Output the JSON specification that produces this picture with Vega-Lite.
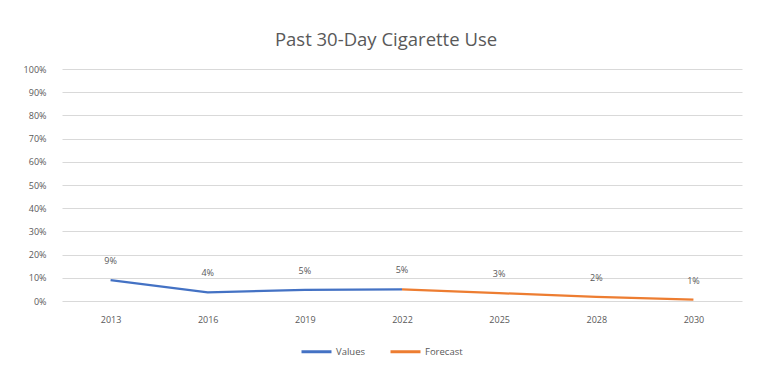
{
  "$schema": "https://vega.github.io/schema/vega-lite/v6.json",
  "width": 680,
  "height": 232,
  "autosize": {"type": "none"},
  "padding": {"left": 62, "top": 69, "right": 17, "bottom": 66},
  "background": "white",
  "title": {
    "text": "Past 30-Day Cigarette Use",
    "fontSize": 18.5,
    "font": "Open Sans",
    "fontWeight": "normal",
    "color": "#595959",
    "offset": 16,
    "anchor": "middle",
    "dx": -16
  },
  "data": {
    "values": [
      {"year": "2013", "value": 0.09, "series": "Values"},
      {"year": "2016", "value": 0.037, "series": "Values"},
      {"year": "2019", "value": 0.048, "series": "Values"},
      {"year": "2022", "value": 0.05, "series": "Values"},
      {"year": "2022", "value": 0.05, "series": "Forecast"},
      {"year": "2025", "value": 0.034, "series": "Forecast"},
      {"year": "2028", "value": 0.018, "series": "Forecast"},
      {"year": "2030", "value": 0.006, "series": "Forecast"}
    ]
  },
  "encoding": {
    "x": {
      "field": "year",
      "type": "ordinal",
      "scale": {"type": "point", "padding": 0.5},
      "axis": {
        "title": null,
        "labelAngle": 0,
        "labelFont": "Open Sans",
        "labelFontSize": 9,
        "labelColor": "#595959",
        "labelPadding": 14,
        "ticks": false,
        "domain": false,
        "grid": false
      }
    },
    "y": {
      "field": "value",
      "type": "quantitative",
      "scale": {"domain": [0, 1]},
      "axis": {
        "title": null,
        "format": ".0%",
        "values": [0, 0.1, 0.2, 0.3, 0.4, 0.5, 0.6, 0.7, 0.8, 0.9, 1],
        "labelFont": "Open Sans",
        "labelFontSize": 9,
        "labelColor": "#595959",
        "labelPadding": 16,
        "ticks": false,
        "domain": false,
        "gridColor": "#d9d9d9",
        "gridWidth": 1
      }
    }
  },
  "layer": [
    {
      "mark": {"type": "line", "strokeWidth": 2.25},
      "encoding": {
        "color": {
          "field": "series",
          "type": "nominal",
          "scale": {"domain": ["Values", "Forecast"], "range": ["#4472C4", "#ED7D31"]},
          "legend": {
            "title": null,
            "orient": "none",
            "direction": "horizontal",
            "legendX": 238,
            "legendY": 266,
            "symbolType": "stroke",
            "symbolSize": 900,
            "symbolStrokeWidth": 3,
            "labelFont": "Open Sans",
            "labelFontSize": 9.5,
            "labelColor": "#595959",
            "columnPadding": 18,
            "labelOffset": 3
          }
        }
      }
    },
    {
      "transform": [{"filter": "datum.series == 'Values' || datum.year != '2022'"}],
      "mark": {"type": "text", "dy": -19, "font": "Open Sans", "fontSize": 9, "color": "#595959"},
      "encoding": {
        "text": {"field": "value", "type": "quantitative", "format": ".0%"}
      }
    }
  ],
  "config": {"view": {"stroke": null}}
}
